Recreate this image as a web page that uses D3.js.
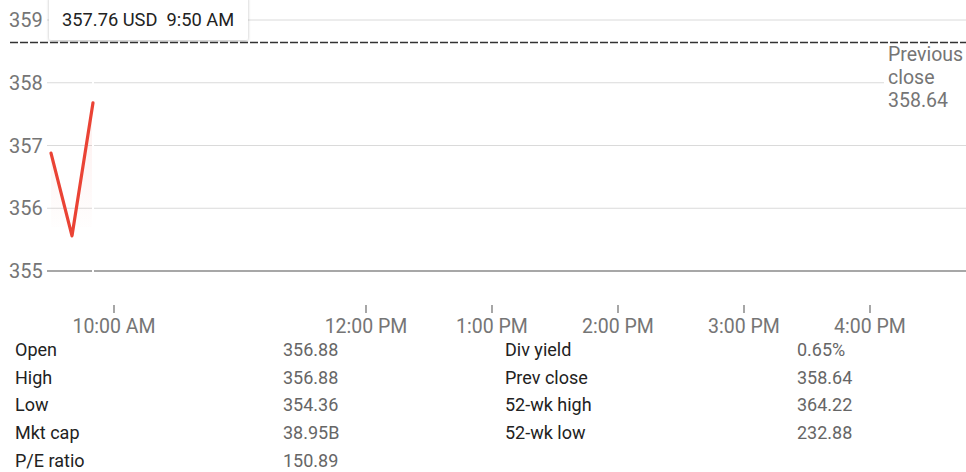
<!DOCTYPE html>
<html>
<head>
<meta charset="utf-8">
<script src="https://cdn.jsdelivr.net/npm/d3@7"></script>
<style>
  body { margin: 0; background: #fff; font-family: Roboto, "Noto Sans", sans-serif; }
</style>
</head>
<body>
<div id="chart"></div>
<script>
// price data (minutes after midnight, price)
var times = [570, 580, 590];
var prices = [356.88, 355.56, 357.68];
var prevClose = 358.64;
var yTicks = [355, 356, 357, 358, 359];
var xTicks = [600, 720, 780, 840, 900, 960];
var xTickLabels = ['10:00 AM', '12:00 PM', '1:00 PM', '2:00 PM', '3:00 PM', '4:00 PM'];
var tipText = '357.76 USD  9:50 AM';

var leftLabels = ['Open', 'High', 'Low', 'Mkt cap', 'P/E ratio'];
var leftValues = ['356.88', '356.88', '354.36', '38.95B', '150.89'];
var rightLabels = ['Div yield', 'Prev close', '52-wk high', '52-wk low'];
var rightValues = ['0.65%', '358.64', '364.22', '232.88'];

var W = 966, H = 472;
var svg = d3.select('#chart').append('svg')
  .attr('width', W)
  .attr('height', H);

var x = d3.scaleLinear().domain([570, 960]).range([51, 870]);
var y = d3.scaleLinear().domain([355, 359]).range([271, 20]);

// gridlines
svg.selectAll('.grid').data(yTicks).enter().append('line')
  .attr('x1', 47).attr('x2', W)
  .attr('y1', d => y(d)).attr('y2', d => y(d))
  .attr('stroke', d => d === 355 ? '#8a8a8a' : '#dadada')
  .attr('stroke-width', d => d === 355 ? 1.3 : 1);

svg.selectAll('.ylab').data(yTicks).enter().append('text')
  .attr('x', 9).attr('y', d => y(d))
  .attr('dy', '0.36em')
  .attr('font-size', 20)
  .attr('fill', '#757575')
  .text(d => d);

// area gradient
var defs = svg.append('defs');
var grad = defs.append('linearGradient')
  .attr('id', 'fade').attr('x1', 0).attr('x2', 0).attr('y1', 0).attr('y2', 1);
grad.append('stop').attr('offset', '0%').attr('stop-color', '#ea4335').attr('stop-opacity', 0.09);
grad.append('stop').attr('offset', '100%').attr('stop-color', '#ea4335').attr('stop-opacity', 0);

var pts = times.map((t, i) => [t, prices[i]]);
var area = d3.area().x(d => x(d[0])).y0(y(355.7)).y1(d => y(d[1]));
svg.append('path').datum(pts)
  .attr('d', area)
  .attr('fill', 'url(#fade)');

// current time cursor gap
svg.append('line')
  .attr('x1', x(times[times.length - 1])).attr('x2', x(times[times.length - 1]))
  .attr('y1', 0).attr('y2', 290)
  .attr('stroke', '#fff').attr('stroke-width', 2);

// previous close dashed line
svg.append('line')
  .attr('x1', 10).attr('x2', W)
  .attr('y1', y(prevClose)).attr('y2', y(prevClose))
  .attr('stroke', '#333').attr('stroke-width', 1.5)
  .attr('stroke-dasharray', '8,2');

// price line
var line = d3.line().x(d => x(d[0])).y(d => y(d[1]));
svg.append('path').datum(pts)
  .attr('d', line)
  .attr('fill', 'none')
  .attr('stroke', '#ea4335')
  .attr('stroke-width', 3.2)
  .attr('stroke-linejoin', 'round')
  .attr('stroke-linecap', 'round');

// previous close label
var pc = svg.append('g');
pc.append('rect').attr('x', 884).attr('y', 44).attr('width', 82).attr('height', 68).attr('fill', '#fff');
var pcText = pc.append('text').attr('x', 888).attr('font-size', 19.5).attr('fill', '#757575');
['Previous', 'close', prevClose.toFixed(2)].forEach(function(s, i) {
  pcText.append('tspan').attr('x', 888).attr('y', 61 + i * 23).text(s);
});

// x axis ticks
var xg = svg.append('g');
xg.selectAll('line').data(xTicks).enter().append('line')
  .attr('x1', d => x(d)).attr('x2', d => x(d))
  .attr('y1', 305).attr('y2', 313)
  .attr('stroke', '#777').attr('stroke-width', 1.3);
xg.selectAll('text').data(xTicks).enter().append('text')
  .attr('x', d => x(d)).attr('y', 333)
  .attr('text-anchor', 'middle')
  .attr('font-size', 19.5)
  .attr('fill', '#757575')
  .text((d, i) => xTickLabels[i]);

// tooltip
var shadow = defs.append('filter').attr('id', 'sh')
  .attr('x', -0.1).attr('y', -0.3).attr('width', 1.2).attr('height', 1.8);
shadow.append('feDropShadow').attr('dx', 0).attr('dy', 1).attr('stdDeviation', 1.5)
  .attr('flood-color', '#000').attr('flood-opacity', 0.25);
var tip = svg.append('g');
tip.append('rect')
  .attr('x', 49).attr('y', -4).attr('width', 199).attr('height', 44)
  .attr('rx', 2)
  .attr('fill', '#fff')
  .attr('filter', 'url(#sh)');
tip.append('text')
  .attr('x', 62).attr('y', 26)
  .attr('font-size', 18.3)
  .attr('fill', '#222')
  .attr('xml:space', 'preserve')
  .style('white-space', 'pre')
  .text(tipText);

// stats table
function table(labels, values, lx, vx) {
  var g = svg.append('g');
  g.selectAll('.l').data(labels).enter().append('text')
    .attr('x', lx).attr('y', (d, i) => 356 + i * 27.7)
    .attr('font-size', 18).attr('fill', '#222')
    .text(d => d);
  g.selectAll('.v').data(values).enter().append('text')
    .attr('x', vx).attr('y', (d, i) => 356 + i * 27.7)
    .attr('font-size', 18).attr('fill', '#666')
    .text(d => d);
}
table(leftLabels, leftValues, 15, 283);
table(rightLabels, rightValues, 505, 797);
</script>
</body>
</html>
